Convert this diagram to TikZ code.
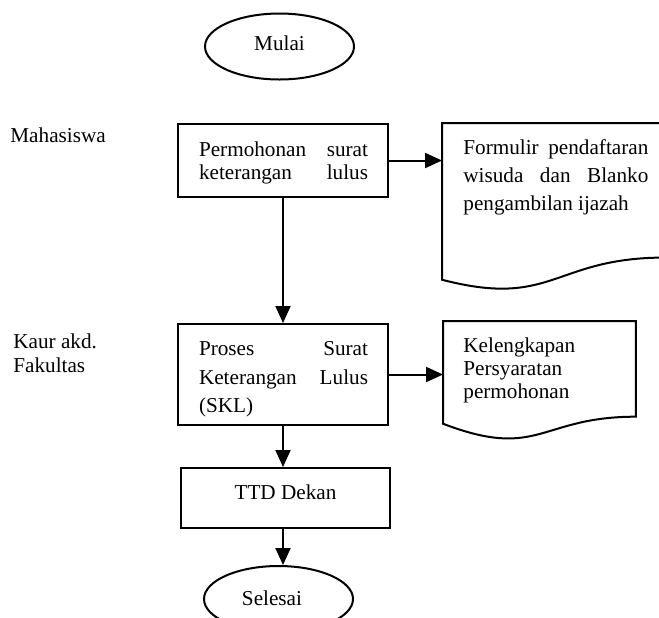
\documentclass[tikz,border=0pt]{standalone}
\usepackage{fontspec}
\setmainfont{Liberation Serif}
\usetikzlibrary{arrows.meta,shapes.geometric,calc}

% Fixed-size text block: width, height, left pad, right pad, lines
\newcommand\txtbox[5]{\vbox to #2{\hsize=#1\relax\offinterlineskip
  \def\padl{#3}\def\padr{#4}#5\vfill}}
% One line of a text block, #1 = distance from the previous baseline
\newcommand\txl[2]{\vskip#1\relax
  \setbox0=\hbox to \hsize{\hskip\padl\relax #2\hskip\padr\relax}%
  \ht0=0pt \dp0=0pt \box0 }

% Document symbol outline around a node: #2 = left end of the wavy base, #3 = lower control
\newcommand\docoutline[3]{%
  \draw[outline] let \p1=(#1.north west), \p2=(#1.south east) in
    (\p1) -- (\x2,\y1) -- (\x2,{\y1+0.802*(\y2-\y1)})
    .. controls ({0.5*(\x1+\x2)},{\y1+0.802*(\y2-\y1)}) and ({0.5*(\x1+\x2)},{\y1+#3*(\y2-\y1)}) ..
    (\x1,{\y1+#2*(\y2-\y1)}) -- cycle;}

\tikzset{
  outline/.style={line width=1pt, line join=miter},
  procbox/.style={draw, line width=1pt, inner sep=0pt, anchor=north west},
  docbox/.style={inner sep=0pt, anchor=north west},
  terminal/.style={draw, ellipse, line width=1pt, inner sep=0pt,
    minimum width=74.5pt, minimum height=33pt},
  lane/.style={inner sep=0pt},
  arr/.style={line width=1pt, -{Triangle[length=8.5pt,width=7.5pt]}}
}

\begin{document}
\begin{tikzpicture}[x=0.5pt, y=-0.5pt, font=\fontsize{10.6pt}{12.7pt}\selectfont]
  \path[use as bounding box, fill=white] (0,0) rectangle (659,617);

  % lane labels
  \node[lane, anchor=base west] (mhs) at (10,142) {Mahasiswa};
  \node[lane, anchor=north west] (kaur) at (13,320)
    {\txtbox{45pt}{30pt}{0pt}{0pt}{\txl{14pt}{Kaur akd.\hfill}\txl{12pt}{Fakultas\hfill}}};

  % terminals
  \node[terminal, text height=7pt, text depth=3.5pt] (start) at (279.5,46.5) {Mulai};
  \node[terminal, text height=7pt, text depth=1pt] (stop) at (278.5,599) {Selesai\hspace*{6.5pt}};

  % process boxes
  \node[procbox] (b1) at (177,123)
    {\txtbox{105pt}{36.5pt}{10.5pt}{10pt}{%
      \txl{16pt}{Permohonan\hfill surat}%
      \txl{11.5pt}{keterangan\hfill lulus}}};
  \node[procbox] (b2) at (177,323)
    {\txtbox{105pt}{50.5pt}{10.5pt}{10pt}{%
      \txl{15.5pt}{Proses\hfill Surat}%
      \txl{14.5pt}{Keterangan\hfill Lulus}%
      \txl{14pt}{(SKL)\hfill}}};
  \node[procbox] (ttd) at (180,467)
    {\txtbox{104.5pt}{30pt}{0pt}{0pt}{\txl{15.5pt}{\hfill TTD Dekan\hfill}}};

  % documents
  \node[docbox] (d1) at (442,123)
    {\txtbox{111pt}{83.5pt}{10.5pt}{8pt}{%
      \txl{15.5pt}{Formulir\hfill pendaftaran}%
      \txl{14pt}{wisuda\hfill dan\hfill Blanko}%
      \txl{14pt}{pengambilan ijazah\hfill}}};
  \docoutline{d1}{0.934}{1.107}
  \node[docbox] (d2) at (443,321)
    {\txtbox{96pt}{59.25pt}{10pt}{5pt}{%
      \txl{15.5pt}{Kelengkapan\hfill}%
      \txl{11.5pt}{Persyaratan\hfill}%
      \txl{11.5pt}{permohonan\hfill}}};
  \docoutline{d2}{0.861}{1.17}

  % connectors
  \draw[arr] (b1.east) -- (b1.east -| d1.west);
  \draw[arr] (b1.south) -- (b1.south |- b2.north);
  \draw[arr] (b2.east) -- (b2.east -| d2.west);
  \draw[arr] (b2.south) -- (b2.south |- ttd.north);
  \draw[arr] (b2.south |- ttd.south) -- (b2.south |- stop.north);
\end{tikzpicture}
\end{document}
